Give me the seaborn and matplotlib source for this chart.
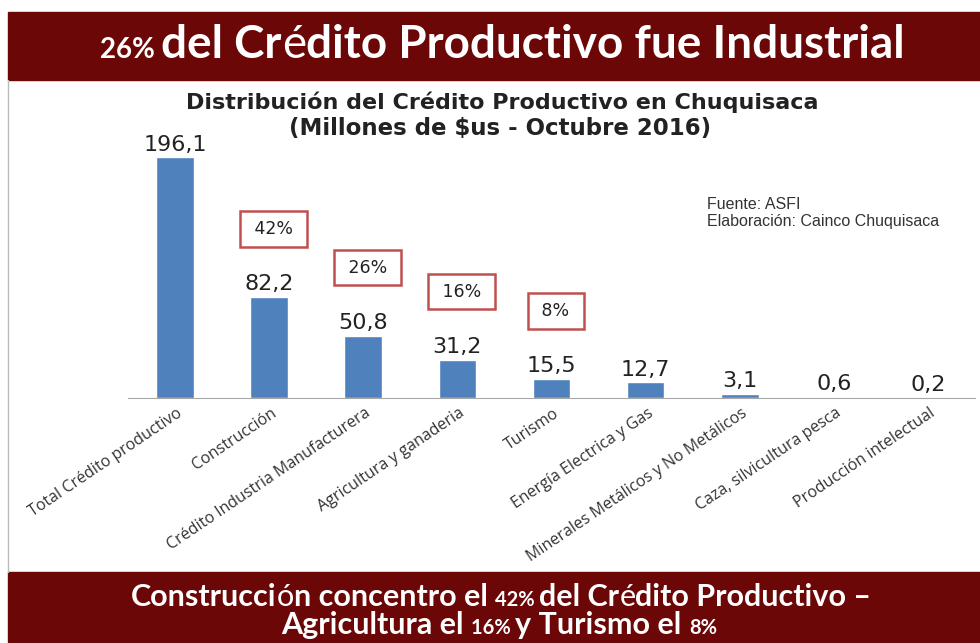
import matplotlib.pyplot as plt
import matplotlib.transforms as mtransforms
from matplotlib.patches import Rectangle
from matplotlib.lines import Line2D
import seaborn as sns
import pandas as pd

categories = ["Total Crédito productivo", "Construcción", "Crédito Industria Manufacturera",
              "Agricultura y ganaderia", "Turismo", "Energía Electrica y Gas",
              "Minerales Metálicos y No Metálicos", "Caza, silvicultura pesca",
              "Producción intelectual"]
values = [196.1, 82.2, 50.8, 31.2, 15.5, 12.7, 3.1, 0.6, 0.2]
shares = ["", "42%", "26%", "16%", "8%", "", "", "", ""]

df = pd.DataFrame({"sector": categories, "monto": values})

dark_red = "#6B0707"
bar_color = "#4F81BD"
box_red = "#C0504D"

sns.set_style("white")
plt.rcParams["font.family"] = ["DejaVu Sans"]

fig = plt.figure(figsize=(9.8, 6.43), dpi=100)
W, H = 980, 643
ax = fig.add_axes([128 / W, 1 - 398 / H, 847 / W, 270 / H])

sns.barplot(data=df, x="sector", y="monto", color=bar_color, saturation=1,
            width=0.4, ax=ax)
ax.set_ylim(0, 220)
ax.set_xlim(-0.5, len(categories) - 0.5)

# value labels
ax.bar_label(ax.containers[0], labels=[f"{v:.1f}".replace(".", ",") for v in values],
             padding=2, fontsize=16, color="#222222")

# percentage boxes
for i, (v, s) in enumerate(zip(values, shares)):
    if s:
        ax.annotate(f" {s} ", xy=(i, v), xytext=(3, 49), textcoords="offset points",
                    ha="center", va="center", fontsize=12.5, color="#222222",
                    bbox=dict(boxstyle="square,pad=0.5", fc="white", ec=box_red, lw=1.8))

# axes styling
ax.spines[["left", "top", "right"]].set_visible(False)
ax.spines["bottom"].set_color("#A6A6A6")
ax.set_yticks([])
ax.set_xlabel("")
ax.set_ylabel("")
ax.set_xticks(range(len(categories)))
ax.set_xticks([i - 0.5 for i in range(len(categories) + 1)], minor=True)
ax.tick_params(axis="x", which="major", length=0, pad=10)
ax.tick_params(axis="x", which="minor", length=5, color="#A6A6A6", direction="out")
ax.set_xticklabels(categories, rotation=34, ha="right", va="center",
                   rotation_mode="anchor", fontsize=11.5, color="#333333",
                   family="Open Sans")
shift = mtransforms.ScaledTranslation(6 / 100, 0, fig.dpi_scale_trans)
for lab in ax.get_xticklabels():
    lab.set_transform(lab.get_transform() + shift)

# banners and frame
fig.add_artist(Rectangle((8 / W, 1 - 80 / H), 1, 68 / H, transform=fig.transFigure,
                         color=dark_red, zorder=0))
fig.add_artist(Rectangle((8 / W, 0), 1, 71 / H, transform=fig.transFigure,
                         color=dark_red, zorder=0))
fig.add_artist(Line2D([8 / W, 8 / W], [71 / H, 1 - 80 / H], transform=fig.transFigure,
                      color="#BBBBBB", lw=1))


def runs_centered(runs, x, y, color="white", family="Lato"):
    # place text pieces of mixed size/weight side by side, centered at x
    fig.canvas.draw()
    r = fig.canvas.get_renderer()
    texts, widths = [], []
    for s, size, weight in runs:
        t = fig.text(0, y, s, fontsize=size, fontweight=weight, color=color,
                     family=family, va="baseline", ha="left")
        probe1 = fig.text(0, 0, "x" + s + "x", fontsize=size, fontweight=weight, family=family)
        probe2 = fig.text(0, 0, "xx", fontsize=size, fontweight=weight, family=family)
        w = probe1.get_window_extent(r).width - probe2.get_window_extent(r).width
        probe1.remove()
        probe2.remove()
        texts.append(t)
        widths.append(w / W)
    start = x - sum(widths) / 2
    for t, w in zip(texts, widths):
        t.set_x(start)
        start += w


runs_centered([("26% ", 20, "bold"), ("del Cr", 33, "bold"), ("é", 33, "normal"),
               ("dito Productivo fue Industrial", 33, "bold")],
              502 / W, 1 - 58 / H)
runs_centered([("Construcci", 22, "bold"), ("ó", 22, "normal"),
               ("n concentro el ", 22, "bold"),
               ("42% ", 14.5, "bold"), ("del Cr", 22, "bold"), ("é", 22, "normal"),
               ("dito Productivo –", 22, "bold")],
              501 / W, 1 - 606 / H)
runs_centered([("Agricultura el ", 22, "bold"), ("16% ", 14.5, "bold"),
               ("y Turismo el ", 22, "bold"), ("8%", 14.5, "bold")],
              499 / W, 1 - 634 / H)

# chart title
fig.text(502 / W, 1 - 102 / H, "Distribución del Crédito Productivo en Chuquisaca",
         ha="center", va="center", fontsize=16, fontweight="bold", color="#222222")
fig.text(500 / W, 1 - 129 / H, "(Millones de $us - Octubre 2016)",
         ha="center", va="center", fontsize=16.5, fontweight="bold", color="#222222")

# source
fig.text(707 / W, 1 - 213 / H, "Fuente: ASFI\nElaboración: Cainco Chuquisaca",
         ha="left", va="center", fontsize=11.5, family="Liberation Sans",
         color="#333333", linespacing=1.15)

plt.savefig("out.png", dpi=100)
